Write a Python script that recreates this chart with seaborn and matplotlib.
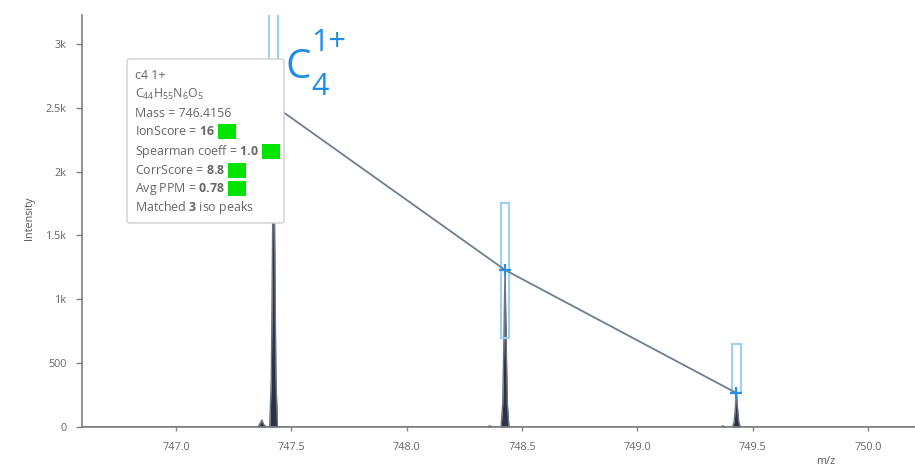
import matplotlib
matplotlib.use("Agg")
import matplotlib.pyplot as plt
from matplotlib.patches import Rectangle, FancyBboxPatch
import seaborn as sns
import pandas as pd

# ---------------- data ----------------
spec_mz = [746.59, 747.355, 747.365, 747.372, 747.380, 747.390,
           747.406, 747.413, 747.418, 747.423, 747.428, 747.433, 747.440,
           748.350, 748.360, 748.370,
           748.409, 748.416, 748.421, 748.426, 748.431, 748.436, 748.443,
           749.360, 749.370, 749.380,
           749.412, 749.419, 749.424, 749.429, 749.434, 749.439, 749.446,
           750.21]
spec_int = [0, 0, 30, 55, 20, 0,
            0, 380, 1390, 2520, 1390, 380, 0,
            0, 10, 0,
            0, 185, 680, 1230, 680, 185, 0,
            0, 8, 0,
            0, 40, 146, 266, 146, 40, 0,
            0]

iso_mz = [747.423, 748.426, 749.429]
iso_int = [2520, 1230, 266]

box_mz = [747.4226, 748.427, 749.429]
box_lo = [2000, 697, 266]
box_hi = [3600, 1754, 650]

yticks = [0, 500, 1000, 1500, 2000, 2500, 3000]
ytick_labels = ["0", "500", "1k", "1.5k", "2k", "2.5k", "3k"]
xticks = [747.0, 747.5, 748.0, 748.5, 749.0, 749.5, 750.0]
xtick_labels = ["747.0", "747.5", "748.0", "748.5", "749.0", "749.5", "750.0"]

tooltip_lines = [
    "c4 1+",
    r"C$_{44}$H$_{55}$N$_{6}$O$_{5}$",
    "Mass = 746.4156",
    r"IonScore = $\mathbf{16}$",
    r"Spearman coeff = $\mathbf{1.0}$",
    r"CorrScore = $\mathbf{8.8}$",
    r"Avg PPM = $\mathbf{0.78}$",
    r"Matched $\mathbf{3}$ iso peaks",
]
tooltip_green = [False, False, False, True, True, True, True, False]

# ---------------- style ----------------
sns.set_theme(style="white")
plt.rcParams["font.family"] = ["Open Sans", "DejaVu Sans"]
plt.rcParams["mathtext.fontset"] = "custom"
plt.rcParams["mathtext.rm"] = "Open Sans"
plt.rcParams["mathtext.bf"] = "Open Sans:bold"
plt.rcParams["mathtext.it"] = "Open Sans:italic"
plt.rcParams["mathtext.default"] = "regular"

W, H = 915, 466
fig = plt.figure(figsize=(W / 100, H / 100), dpi=100)


def fx(x):
    return x / W


def fy(y):
    return 1 - y / H


ax = fig.add_axes([fx(82), fy(427), fx(915 - 82) + 0.01, (427 - 15) / H])
ax.set_xlim(746.5925, 750.203 + 0.01 * W / 230.7)
ax.set_ylim(0, 3227)

spec = pd.DataFrame({"mz": spec_mz, "intensity": spec_int})
ax.fill_between(spec_mz, 0, spec_int, color="#2b3244", lw=0, zorder=2)
sns.lineplot(data=spec, x="mz", y="intensity", ax=ax, sort=False,
             estimator=None, color="#6d7382", lw=1.0, zorder=3)

for m, lo, hi in zip(box_mz, box_lo, box_hi):
    ax.add_patch(Rectangle((m - 0.018, lo), 0.036, hi - lo, fill=False,
                           edgecolor="#9dd0f5", lw=1.5, zorder=4))

iso = pd.DataFrame({"mz": iso_mz, "intensity": iso_int})
sns.lineplot(data=iso, x="mz", y="intensity", ax=ax, sort=False,
             estimator=None, color="#6f7d92", lw=1.3, zorder=5)
ax.plot(iso_mz, iso_int, ls="none", marker="+", ms=9, mew=1.6,
        color="#2a8fe8", zorder=6)

# axes styling
for s in ["top", "right"]:
    ax.spines[s].set_visible(False)
for s in ["left", "bottom"]:
    ax.spines[s].set_color("#808080")
    ax.spines[s].set_linewidth(1.2)
ax.set_yticks(yticks)
ax.set_yticklabels(ytick_labels)
ax.set_xticks(xticks)
ax.set_xticklabels(xtick_labels)
ax.tick_params(axis="y", direction="out", length=4.5, width=1, color="#808080",
               labelsize=7.8, labelcolor="#666666", pad=6.5, left=True)
ax.tick_params(axis="x", direction="out", length=3, width=1, color="#808080",
               labelsize=7.8, labelcolor="#666666", pad=7.5, bottom=True)
ax.set_xlabel("")
ax.set_ylabel("")
ax.grid(False)

fig.text(fx(30), fy(218), "Intensity", rotation=90, ha="center", va="center",
         fontsize=7.8, color="#555555")
fig.text(fx(826), fy(456), "m/z", ha="center", va="top",
         fontsize=7.8, color="#555555")

# ion label
blue = "#1f8ceb"
fig.text(fx(286), fy(78), "C", ha="left", va="baseline", fontsize=29,
         color=blue)
fig.text(fx(311), fy(51), "1+", ha="left", va="baseline", fontsize=22,
         color=blue)
fig.text(fx(311), fy(95), "4", ha="left", va="baseline", fontsize=22,
         color=blue)

# tooltip
tip = FancyBboxPatch((fx(127), fy(223)), fx(284 - 127), (223 - 59) / H,
                     boxstyle="round,pad=0,rounding_size=0.004",
                     transform=fig.transFigure, facecolor="white",
                     edgecolor="#cfcfcf", lw=1.0, zorder=10)
fig.patches.append(tip)

baselines = [79, 98, 117, 135, 155, 174, 192, 211]
texts = []
for line, yb in zip(tooltip_lines, baselines):
    t = fig.text(fx(135), fy(yb), line, ha="left", va="baseline",
                 fontsize=8.9, color="#666666", zorder=11)
    texts.append((t, yb))

fig.canvas.draw()
renderer = fig.canvas.get_renderer()
for (t, yb), g in zip(texts, tooltip_green):
    if g:
        bb = t.get_window_extent(renderer)
        x0 = bb.x1 + 3
        sq = Rectangle((fx(x0), fy(yb + 4)), fx(18), 15 / H,
                       transform=fig.transFigure, facecolor="#00e400",
                       edgecolor="none", zorder=12)
        fig.patches.append(sq)

fig.savefig("out.png", dpi=100)
